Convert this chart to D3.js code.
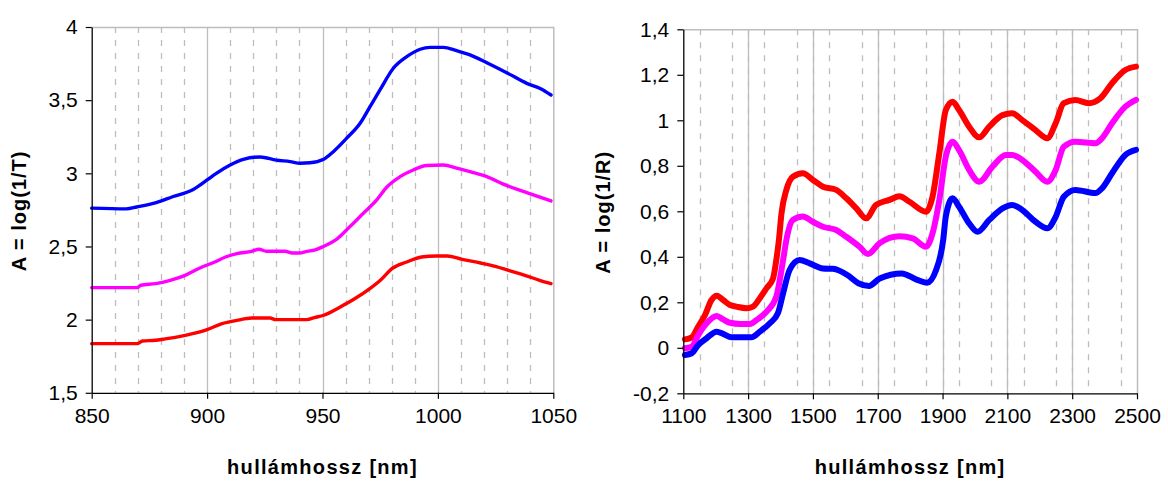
<!DOCTYPE html>
<html>
<head>
<meta charset="utf-8">
<script src="https://cdn.jsdelivr.net/npm/d3@7"></script>
<style>
  html, body { margin: 0; padding: 0; background: #fff; }
  svg { display: block; }
  text { font-family: "Liberation Sans", Arial, sans-serif; fill: #000; }
</style>
</head>
<body>
<svg id="chart" width="1168" height="495"></svg>
<script>
// ---- Transmission spectra, 850–1050 nm: [wavelength nm, A = log(1/T)] ----
const transBlue = [
  [850, 2.762], [865, 2.757], [869.5, 2.77], [878, 2.80], [885, 2.84], [894, 2.89],
  [900, 2.955], [904, 3.0], [910, 3.057], [915.7, 3.096], [923, 3.112], [930, 3.09],
  [936, 3.08], [940.3, 3.069], [944.6, 3.072], [950.5, 3.096], [954.7, 3.148],
  [960.5, 3.24], [966.3, 3.342], [970.6, 3.456], [974.9, 3.57], [980.7, 3.718],
  [986.5, 3.797], [992.3, 3.848], [996.6, 3.861], [1002.4, 3.861], [1008.1, 3.838],
  [1013.9, 3.81], [1021.2, 3.756], [1029.8, 3.688], [1038.5, 3.615], [1044.3, 3.58],
  [1049, 3.535]
];
const transMagenta = [
  [850, 2.219], [869.7, 2.219], [871.3, 2.235], [877.7, 2.246], [884, 2.269],
  [890.5, 2.303], [896.9, 2.353], [903.3, 2.394], [908, 2.428], [912.9, 2.451],
  [919.3, 2.467], [922.5, 2.481], [925.7, 2.467], [933.7, 2.467], [936.9, 2.455],
  [940, 2.455], [943.3, 2.467], [946.5, 2.475], [950.4, 2.50], [956.2, 2.55],
  [961.9, 2.636], [967.7, 2.727], [973.5, 2.818], [977.8, 2.905], [983.6, 2.977],
  [989.3, 3.023], [995.1, 3.053], [1002.4, 3.057], [1008.1, 3.035], [1015.3, 3.005],
  [1021.2, 2.977], [1028.3, 2.926], [1038.5, 2.868], [1049, 2.811]
];
const transRed = [
  [850, 1.836], [869.7, 1.836], [872, 1.854], [877.7, 1.859], [880.9, 1.866],
  [887.3, 1.882], [893.7, 1.904], [900, 1.932], [906.5, 1.973], [912.9, 1.995],
  [919.3, 2.011], [927.3, 2.011], [929.7, 2.0], [943.3, 2.0], [946.5, 2.014],
  [950.5, 2.03], [957.7, 2.087], [964.1, 2.144], [970.5, 2.212], [975.3, 2.273],
  [980.1, 2.349], [986.5, 2.394], [992.9, 2.428], [999.3, 2.435], [1004.1, 2.435],
  [1010.5, 2.412], [1018.5, 2.387], [1024.9, 2.364], [1031.3, 2.333], [1037.7, 2.303],
  [1044.1, 2.269], [1049, 2.246]
];

// ---- Reflectance spectra, 1100–2500 nm: [wavelength nm, A = log(1/R)] ----
const reflBlue = [
  [1105, -0.032], [1126, -0.024], [1146, 0.012], [1172, 0.042], [1203, 0.071],
  [1223, 0.061], [1249, 0.046], [1275, 0.046], [1310, 0.046], [1336, 0.071],
  [1367, 0.108], [1392, 0.152], [1408, 0.24], [1428, 0.342], [1459, 0.386],
  [1490, 0.371], [1531, 0.349], [1562, 0.347], [1606, 0.32], [1640, 0.284],
  [1673, 0.272], [1706, 0.305], [1774, 0.327], [1818, 0.301], [1852, 0.286],
  [1880, 0.342], [1902, 0.474], [1910, 0.577], [1931, 0.657], [1951, 0.62],
  [1982, 0.547], [2008, 0.51], [2044, 0.562], [2085, 0.613], [2115, 0.628],
  [2146, 0.606], [2187, 0.554], [2223, 0.525], [2249, 0.576], [2274, 0.664],
  [2310, 0.694], [2372, 0.68], [2392, 0.701], [2423, 0.767], [2464, 0.848],
  [2497, 0.87]
];
const reflMagenta = [
  [1105, -0.002], [1126, 0.005], [1146, 0.056], [1172, 0.108], [1203, 0.14],
  [1223, 0.125], [1244, 0.11], [1275, 0.105], [1305, 0.105], [1326, 0.122],
  [1357, 0.159], [1387, 0.225], [1408, 0.386], [1418, 0.474], [1438, 0.562],
  [1469, 0.577], [1500, 0.554], [1531, 0.532], [1572, 0.518], [1603, 0.488],
  [1644, 0.444], [1670, 0.412], [1706, 0.46], [1767, 0.49], [1808, 0.481],
  [1849, 0.444], [1869, 0.503], [1890, 0.65], [1910, 0.84], [1931, 0.906],
  [1951, 0.869], [1982, 0.782], [2013, 0.73], [2054, 0.796], [2095, 0.848],
  [2115, 0.848], [2146, 0.826], [2187, 0.774], [2223, 0.73], [2249, 0.782],
  [2274, 0.884], [2310, 0.906], [2372, 0.899], [2392, 0.921], [2423, 0.987],
  [2464, 1.06], [2497, 1.09]
];
const reflRed = [
  [1105, 0.037], [1126, 0.046], [1146, 0.093], [1167, 0.144], [1187, 0.21],
  [1203, 0.229], [1223, 0.21], [1244, 0.188], [1264, 0.181], [1295, 0.174],
  [1315, 0.181], [1336, 0.218], [1357, 0.262], [1377, 0.305], [1387, 0.386],
  [1395, 0.474], [1403, 0.591], [1418, 0.694], [1438, 0.752], [1469, 0.767],
  [1500, 0.738], [1531, 0.708], [1572, 0.694], [1603, 0.657], [1634, 0.613],
  [1664, 0.569], [1695, 0.628], [1736, 0.65], [1767, 0.666], [1798, 0.642],
  [1849, 0.598], [1869, 0.664], [1890, 0.855], [1910, 1.045], [1931, 1.082],
  [1951, 1.045], [1982, 0.972], [2013, 0.925], [2044, 0.972], [2085, 1.023],
  [2115, 1.031], [2146, 1.001], [2187, 0.957], [2223, 0.921], [2249, 0.987],
  [2274, 1.075], [2310, 1.089], [2351, 1.075], [2387, 1.097], [2423, 1.163],
  [2464, 1.221], [2497, 1.236]
];

// ---- Axis tick values and titles ----
const transXTicks = [850, 900, 950, 1000, 1050];
const transYTicks = [1.5, 2, 2.5, 3, 3.5, 4];
const reflXTicks = [1100, 1300, 1500, 1700, 1900, 2100, 2300, 2500];
const reflYTicks = [-0.2, 0, 0.2, 0.4, 0.6, 0.8, 1, 1.2, 1.4];
const xTitle = "hullámhossz [nm]";
const transYTitle = "A = log(1/T)";
const reflYTitle = "A = log(1/R)";

const svg = d3.select("#chart");
const gridColor = "#bdbdbd";
const fmt = v => String(v).replace(".", ",");

function panel(opt) {
  const x = d3.scaleLinear().domain(opt.xDomain).range(opt.xRange);
  const y = d3.scaleLinear().domain(opt.yDomain).range(opt.yRange);
  const g = svg.append("g");
  const [x0, x1] = opt.xRange;
  const [y0, y1] = opt.yRange;

  // minor (dashed) and major (solid) vertical gridlines
  const minor = d3.range(opt.xDomain[0], opt.xDomain[1] + 1e-9, opt.minorStep)
    .filter(v => v > opt.xDomain[0] && v < opt.xDomain[1] && Math.abs(v % opt.majorStep) > 1e-6);
  const major = opt.xTicks.filter(v => v > opt.xDomain[0] && v < opt.xDomain[1]);
  g.selectAll("line.minor").data(minor).join("line")
    .attr("x1", d => Math.round(x(d)) + 0.5).attr("x2", d => Math.round(x(d)) + 0.5)
    .attr("y1", y1).attr("y2", y0)
    .attr("stroke", gridColor).attr("stroke-width", 1.3).attr("stroke-dasharray", "6,7");
  g.selectAll("line.major").data(major).join("line")
    .attr("x1", d => Math.round(x(d)) + 0.5).attr("x2", d => Math.round(x(d)) + 0.5)
    .attr("y1", y1).attr("y2", y0)
    .attr("stroke", gridColor).attr("stroke-width", 1.3);

  // plot-area frame (top and right)
  g.append("path")
    .attr("d", `M${x0},${y1 + 0.5}H${x1 + 0.5}V${y0}`)
    .attr("fill", "none").attr("stroke", gridColor).attr("stroke-width", 1.5);

  // spectra
  const line = d3.line().x(d => x(d[0])).y(d => y(d[1])).curve(d3.curveMonotoneX);
  opt.series.forEach(s => {
    g.append("path").datum(s.data)
      .attr("d", line)
      .attr("fill", "none")
      .attr("stroke", s.color)
      .attr("stroke-width", opt.lineWidth)
      .attr("stroke-linejoin", "round")
      .attr("stroke-linecap", "round");
  });

  // axes
  const xAxis = g.append("g").attr("transform", `translate(0,${y0})`)
    .call(d3.axisBottom(x).tickValues(opt.xTicks).tickFormat(fmt).tickSize(6).tickSizeOuter(0).tickPadding(9));
  const yAxis = g.append("g").attr("transform", `translate(${x0},0)`)
    .call(d3.axisLeft(y).tickValues(opt.yTicks).tickFormat(fmt).tickSize(6).tickSizeOuter(0).tickPadding(8));
  [xAxis, yAxis].forEach(a => {
    a.select(".domain").attr("stroke", "#000").attr("stroke-width", 1.3);
    a.selectAll(".tick line").attr("stroke", "#000").attr("stroke-width", 1.2);
    a.selectAll(".tick text")
      .attr("font-family", "'Liberation Sans', Arial, sans-serif")
      .attr("font-size", 21).attr("fill", "#000");
  });

  // axis titles
  g.append("text")
    .attr("x", (x0 + x1) / 2).attr("y", 474)
    .attr("text-anchor", "middle")
    .attr("font-size", 20).attr("font-weight", "bold")
    .attr("letter-spacing", 1.3)
    .text(xTitle);
  g.append("text")
    .attr("transform", `translate(${opt.yTitleX},${(y0 + y1) / 2 + 1}) rotate(-90)`)
    .attr("text-anchor", "middle")
    .attr("font-size", 20).attr("font-weight", "bold")
    .attr("letter-spacing", 1)
    .text(opt.yTitle);
}

panel({
  xDomain: [850, 1050], xRange: [91.7, 553.3],
  yDomain: [1.5, 4], yRange: [392.8, 27],
  xTicks: transXTicks, yTicks: transYTicks,
  minorStep: 10, majorStep: 50,
  lineWidth: 3.4,
  yTitle: transYTitle, yTitleX: 26,
  series: [
    { data: transRed, color: "#ff0000" },
    { data: transMagenta, color: "#ff00ff" },
    { data: transBlue, color: "#0000ff" }
  ]
});

panel({
  xDomain: [1100, 2500], xRange: [683.3, 1137],
  yDomain: [-0.2, 1.4], yRange: [393.3, 29.3],
  xTicks: reflXTicks, yTicks: reflYTicks,
  minorStep: 50, majorStep: 200,
  lineWidth: 6,
  yTitle: reflYTitle, yTitleX: 610,
  series: [
    { data: reflRed, color: "#ff0000" },
    { data: reflMagenta, color: "#ff00ff" },
    { data: reflBlue, color: "#0000ff" }
  ]
});
</script>
</body>
</html>
